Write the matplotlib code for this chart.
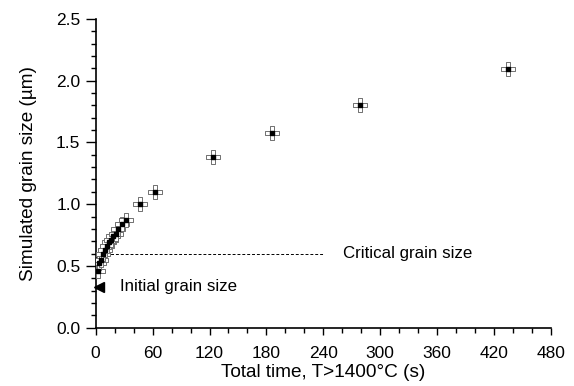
import numpy as np
import matplotlib
matplotlib.use('Agg')
import matplotlib.pyplot as plt
from matplotlib.path import Path
from matplotlib.ticker import MultipleLocator

plt.rcParams['font.family'] = ['Liberation Sans', 'DejaVu Sans']

# simulated grain size vs total time above 1400 C
time_s = [2.5, 4, 6, 8, 10, 12, 14, 16, 18, 21, 24, 28, 32, 47, 62, 124, 186, 279, 435]
grain_um = [0.46, 0.52, 0.55, 0.60, 0.63, 0.66, 0.69, 0.71, 0.74, 0.76, 0.80, 0.84, 0.87,
            1.00, 1.10, 1.38, 1.58, 1.80, 2.095]

critical_size = 0.6
critical_end = 240
initial_size = 0.33
initial_time = 3.5

xticks = [0, 60, 120, 180, 240, 300, 360, 420, 480]
yticks = [0.0, 0.5, 1.0, 1.5, 2.0, 2.5]

# marker: four open squares around a centre square
sq = [(-0.5, -0.5), (0.5, -0.5), (0.5, 0.5), (-0.5, 0.5), (-0.5, -0.5)]
codes = [Path.MOVETO, Path.LINETO, Path.LINETO, Path.LINETO, Path.CLOSEPOLY]
paths = [Path([(x + dx, y + dy) for x, y in sq], codes)
         for dx, dy in [(0, 0), (1, 0), (-1, 0), (0, 1), (0, -1)]]
cross_marker = Path.make_compound_path(*paths)

fig = plt.figure(figsize=(5.74, 3.86), dpi=100)
ax = fig.add_axes([0.1667, 0.151, 0.7933, 0.8])

ax.plot([0, critical_end], [critical_size, critical_size], color='black', lw=0.7,
        ls=(0, (3, 2)))
ax.plot(time_s, grain_um, ls='none', marker=cross_marker, markersize=9.5,
        markerfacecolor='white', markeredgecolor='#707070', markeredgewidth=0.7, zorder=3)
ax.plot(time_s, grain_um, ls='none', marker='s', markersize=2.8,
        color='black', zorder=4)
ax.plot([initial_time], [initial_size], ls='none', marker='<', markersize=7.5,
        color='black', clip_on=False, zorder=5)

ax.text(261, critical_size, 'Critical grain size', fontsize=12.2, va='center', ha='left')
ax.text(26, initial_size, 'Initial grain size', fontsize=12.2, va='center', ha='left')

ax.set_xlim(0, 480)
ax.set_ylim(0, 2.5)
ax.set_xticks(xticks)
ax.set_yticks(yticks)
ax.set_yticklabels(['%.1f' % v for v in yticks])
ax.xaxis.set_minor_locator(MultipleLocator(20))
ax.yaxis.set_minor_locator(MultipleLocator(0.1))
ax.tick_params(axis='both', which='major', length=7, width=1, labelsize=12.5)
ax.tick_params(axis='both', which='minor', length=3.5, width=1)
ax.tick_params(axis='x', which='major', length=5, pad=8)
ax.tick_params(axis='y', which='major', pad=4)

for s in ['top', 'right']:
    ax.spines[s].set_visible(False)
for s in ['left', 'bottom']:
    ax.spines[s].set_linewidth(1.2)

ax.set_xlabel('Total time, T>1400°C (s)', fontsize=13.7, labelpad=2)
ax.set_ylabel('Simulated grain size (µm)', fontsize=13.7, labelpad=14)

plt.savefig('out.png', dpi=100)
